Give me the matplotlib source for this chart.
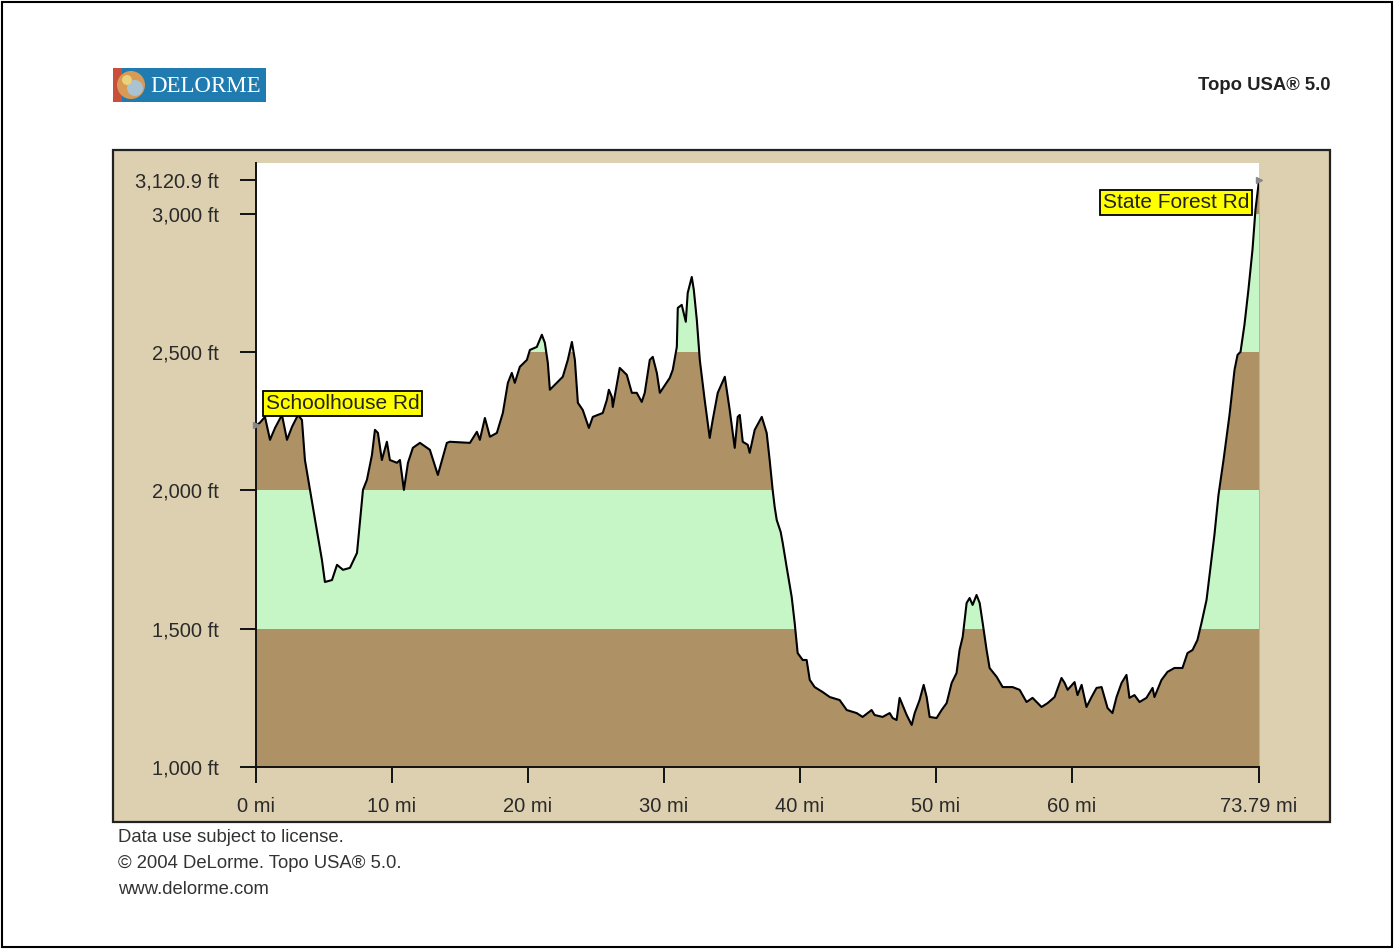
import matplotlib.pyplot as plt
from matplotlib import font_manager
from matplotlib.patches import Rectangle, Ellipse

# elevation profile (miles, feet)
miles = [0.00, 0.29, 0.66, 1.03, 1.40, 1.91, 2.28, 2.65, 3.09, 3.38,
         3.60, 3.97, 4.41, 4.85, 5.07, 5.59, 5.96, 6.40, 6.91, 7.43,
         7.87, 8.16, 8.53, 8.75, 8.97, 9.26, 9.63, 9.85, 10.37, 10.59,
         10.88, 11.18, 11.54, 12.06, 12.79, 13.38, 14.04, 14.26, 15.74, 16.25,
         16.47, 16.84, 17.21, 17.72, 18.16, 18.53, 18.82, 19.04, 19.41, 19.93,
         20.15, 20.66, 21.03, 21.25, 21.47, 21.62, 22.13, 22.57, 22.94, 23.24,
         23.46, 23.68, 24.04, 24.49, 24.78, 25.51, 25.81, 25.96, 26.18, 26.25,
         26.76, 27.28, 27.65, 28.01, 28.38, 28.60, 28.97, 29.19, 29.49, 29.71,
         30.44, 30.66, 30.96, 31.03, 31.32, 31.62, 31.76, 32.06, 32.21, 32.43,
         32.65, 33.01, 33.38, 33.60, 33.97, 34.49, 34.85, 35.07, 35.22, 35.44,
         35.59, 35.81, 36.18, 36.32, 36.69, 37.21, 37.57, 37.79, 38.01, 38.16,
         38.31, 38.60, 38.75, 39.04, 39.41, 39.63, 39.85, 40.22, 40.51, 40.74,
         41.10, 41.69, 42.21, 42.94, 43.46, 44.19, 44.63, 45.29, 45.51, 46.10,
         46.62, 46.84, 47.13, 47.35, 47.57, 47.87, 48.24, 48.46, 48.82, 49.12,
         49.34, 49.56, 50.07, 50.44, 50.81, 51.18, 51.54, 51.76, 51.99, 52.28,
         52.50, 52.72, 53.01, 53.24, 53.46, 53.75, 53.97, 54.49, 54.93, 55.66,
         56.18, 56.69, 57.13, 57.79, 58.24, 58.75, 59.26, 59.49, 59.71, 60.22,
         60.44, 60.74, 61.10, 61.47, 61.84, 62.21, 62.65, 63.01, 63.31, 63.68,
         64.04, 64.26, 64.63, 65.00, 65.51, 65.96, 66.10, 66.62, 67.06, 67.57,
         68.16, 68.53, 68.90, 69.26, 69.56, 69.93, 70.29, 70.51, 70.81, 71.18,
         71.62, 71.99, 72.21, 72.43, 72.72, 73.01, 73.31, 73.53, 73.79]
elev_ft = [2235, 2245, 2266, 2183, 2226, 2273, 2183, 2230, 2273, 2255,
           2110, 2002, 1875, 1749, 1669, 1676, 1731, 1713, 1720, 1774,
           2002, 2038, 2128, 2219, 2208, 2110, 2176, 2110, 2100, 2110,
           2002, 2100, 2154, 2172, 2147, 2056, 2172, 2176, 2172, 2212,
           2183, 2262, 2194, 2208, 2280, 2389, 2425, 2389, 2447, 2472,
           2508, 2519, 2563, 2534, 2461, 2364, 2389, 2411, 2472, 2537,
           2472, 2317, 2291, 2226, 2266, 2280, 2327, 2364, 2338, 2302,
           2443, 2418, 2353, 2353, 2320, 2353, 2472, 2483, 2425, 2353,
           2407, 2436, 2519, 2660, 2671, 2610, 2714, 2772, 2725, 2617,
           2472, 2327, 2190, 2255, 2353, 2411, 2291, 2208, 2154, 2266,
           2273, 2176, 2165, 2136, 2219, 2266, 2208, 2110, 2002, 1940,
           1893, 1850, 1810, 1723, 1615, 1521, 1412, 1387, 1387, 1315,
           1289, 1271, 1253, 1242, 1206, 1195, 1181, 1206, 1188, 1181,
           1195, 1177, 1170, 1250, 1224, 1188, 1152, 1195, 1242, 1297,
           1253, 1181, 1177, 1206, 1231, 1304, 1340, 1423, 1470, 1593,
           1611, 1586, 1622, 1593, 1521, 1423, 1358, 1326, 1289, 1289,
           1279, 1235, 1250, 1217, 1231, 1253, 1322, 1304, 1279, 1307,
           1260, 1297, 1217, 1253, 1286, 1289, 1213, 1195, 1253, 1304,
           1333, 1250, 1260, 1235, 1250, 1286, 1253, 1315, 1344, 1358,
           1358, 1412, 1423, 1459, 1521, 1604, 1749, 1839, 1984, 2110,
           2273, 2436, 2490, 2501, 2599, 2725, 2870, 3015, 3120.9]

green_bands = [(1500, 2000), (2500, 3000)]
y_ticks = [1000, 1500, 2000, 2500, 3000, 3120.9]
y_labels = ['1,000 ft', '1,500 ft', '2,000 ft', '2,500 ft', '3,000 ft', '3,120.9 ft']
x_ticks = [0, 10, 20, 30, 40, 50, 60, 73.79]
x_labels = ['0 mi', '10 mi', '20 mi', '30 mi', '40 mi', '50 mi', '60 mi', '73.79 mi']
start_name = 'Schoolhouse Rd'
end_name = 'State Forest Rd'
footer = ['Data use subject to license.', '\u00a9 2004 DeLorme. Topo USA\u00ae 5.0.', 'www.delorme.com']

TAN = '#ddd0b0'
BROWN = '#ae9165'
GREEN = '#c6f6c6'


def pick_font(names):
    for n in names:
        try:
            font_manager.findfont(n, fallback_to_default=False)
            return n
        except Exception:
            pass
    return 'DejaVu Sans'


narrow = pick_font(['Liberation Sans Narrow', 'Liberation Sans'])
regular = pick_font(['Liberation Sans', 'DejaVu Sans'])
serif = pick_font(['Liberation Serif', 'DejaVu Serif'])

W, H = 1395, 950
fig = plt.figure(figsize=(W / 100, H / 100), dpi=100)


def fx(px):
    return px / W


def fy(py):
    return 1 - py / H


# outer frame and tan panel
fig.add_artist(Rectangle((fx(2), fy(947)), fx(1392) - fx(2), fy(2) - fy(947),
                         transform=fig.transFigure, fill=False, ec='black', lw=1.5, zorder=-2))
fig.add_artist(Rectangle((fx(113), fy(822)), fx(1330) - fx(113), fy(150) - fy(822),
                         transform=fig.transFigure, fc=TAN, ec='#222222', lw=1.6, zorder=-1))

# logo
fig.add_artist(Rectangle((fx(113), fy(102)), fx(266) - fx(113), fy(68) - fy(102),
                         transform=fig.transFigure, fc='#1f7bb0', ec='none'))
fig.add_artist(Rectangle((fx(113), fy(102)), fx(122) - fx(113), fy(68) - fy(102),
                         transform=fig.transFigure, fc='#c8503a', ec='none'))
fig.add_artist(Ellipse((fx(131), fy(85)), 28 / W, 28 / H, transform=fig.transFigure,
                       fc='#d99a55', ec='none'))
fig.add_artist(Ellipse((fx(135), fy(88)), 16 / W, 16 / H, transform=fig.transFigure,
                       fc='#a9c3d3', ec='none'))
fig.add_artist(Ellipse((fx(127), fy(80)), 10 / W, 10 / H, transform=fig.transFigure,
                       fc='#e8d27a', ec='none'))
fig.text(fx(150), fy(86), 'DELORME', ha='left', va='center', fontsize=16.5,
         family=serif, color='white')

fig.text(fx(1330), fy(86), 'Topo USA\u00ae 5.0', ha='right', va='center', fontsize=13.3,
         fontweight='bold', family=regular, color='#222222')

for i, line in enumerate(footer):
    fig.text(fx(118), fy(837 + 26 * i), line, ha='left', va='center', fontsize=13.3,
             family=regular, color='#333333')

# profile axes
ax = fig.add_axes([fx(256), fy(767), fx(1259) - fx(256), fy(163) - fy(767)])
ax.set_facecolor('white')
ax.set_xlim(0, 73.79)
ax.set_ylim(1000, 3184)

area = ax.fill_between(miles, 1000, elev_ft, color=BROWN, lw=0, zorder=1)
clip = area.get_paths()[0]
for lo, hi in green_bands:
    band = ax.axhspan(lo, hi, color=GREEN, lw=0, zorder=1.5)
    band.set_clip_path(clip, transform=ax.transData)
ax.plot(miles, elev_ft, color='black', lw=1.5, zorder=3)
ax.plot([miles[0], miles[-1]], [elev_ft[0], elev_ft[-1]], ls='none', marker='>',
        ms=5, color='#888888', zorder=4, clip_on=False)

for s in ['top', 'right']:
    ax.spines[s].set_visible(False)
for s in ['left', 'bottom']:
    ax.spines[s].set_linewidth(1.4)
    ax.spines[s].set_color('#111111')

ax.set_yticks(y_ticks)
ax.set_yticklabels(y_labels)
ax.set_xticks(x_ticks)
ax.set_xticklabels(x_labels)
ax.tick_params(axis='both', direction='out', length=11.5, width=1.4, color='#111111',
               labelsize=14.5, labelcolor='#2a2a2a', labelfontfamily=narrow)
ax.tick_params(axis='y', pad=15)
ax.tick_params(axis='x', pad=10)

box = dict(boxstyle='square,pad=0.15', fc='#ffff00', ec='black', lw=1.3)
ax.annotate(start_name, xy=(miles[0], elev_ft[0]), xytext=(7, 9), textcoords='offset points',
            ha='left', va='bottom', fontsize=15, family=narrow, color='#222222', bbox=box, zorder=5)
ax.annotate(end_name, xy=(miles[-1], elev_ft[-1]), xytext=(-7, -9), textcoords='offset points',
            ha='right', va='top', fontsize=15, family=narrow, color='#222222', bbox=box, zorder=5)

plt.savefig('out.png', dpi=100)
